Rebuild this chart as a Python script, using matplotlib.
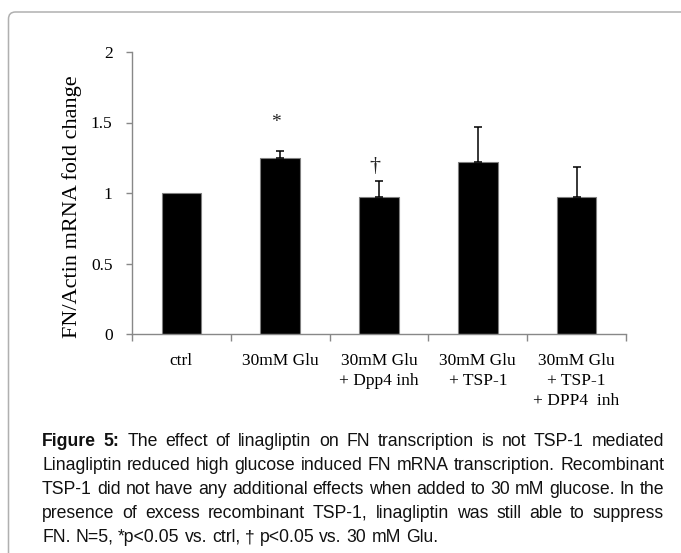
import matplotlib
matplotlib.use('Agg')
import matplotlib.pyplot as plt
from matplotlib.patches import FancyBboxPatch
from matplotlib.transforms import IdentityTransform
import numpy as np

# ---------------- data ----------------
categories = ['ctrl', '30mM Glu', '30mM Glu\n+ Dpp4 inh', '30mM Glu\n+ TSP-1',
              '30mM Glu\n+ TSP-1\n+ DPP4  inh']
values = [1.0, 1.25, 0.97, 1.22, 0.97]
errors = [0.0, 0.045, 0.115, 0.245, 0.215]
sig_marks = ['', '*', '\u2020', '', '']
sig_heights = [0.0, 1.50, 1.19, 0.0, 0.0]
y_ticks = [0, 0.5, 1, 1.5, 2]
y_tick_labels = ['0', '0.5', '1', '1.5', '2']
y_label = 'FN/Actin mRNA fold change'

caption_bold = 'Figure 5:'
caption_lines = [
    'The effect of linagliptin on FN transcription is not TSP-1 mediated',
    'Linagliptin reduced high glucose induced FN mRNA transcription. Recombinant',
    'TSP-1 did not have any additional effects when added to 30 mM glucose. In the',
    'presence of excess recombinant TSP-1, linagliptin was still able to suppress',
    'FN. N=5, *p<0.05 vs. ctrl, \u2020 p<0.05 vs. 30 mM Glu.',
]

# ---------------- figure ----------------
W, H = 681, 553
fig = plt.figure(figsize=(W / 100, H / 100), dpi=100)
fig.patch.set_facecolor('white')

serif = ['Liberation Serif', 'DejaVu Serif']
sans = ['Liberation Sans', 'DejaVu Sans']

# border box (open at right and bottom)
box = FancyBboxPatch((8.5, -30), 720, 553 - 12 + 30,
                     boxstyle='round,pad=0,rounding_size=7',
                     transform=IdentityTransform(), facecolor='none',
                     edgecolor='#b0b0b0', linewidth=1.1)
fig.add_artist(box)

ax = fig.add_axes([132 / W, 1 - 334 / H, (626 - 132) / W, (334 - 52) / H])
x = np.arange(len(categories))
ax.bar(x, values, width=0.4, color='black', edgecolor='#7f7f7f',
       linewidth=0.8, zorder=2)

vals = np.array(values)
errs = np.array(errors)
mask = errs > 0
ax.errorbar(x[mask], vals[mask], yerr=[np.zeros(mask.sum()), errs[mask]],
            fmt='none', ecolor='black', elinewidth=1.1, capsize=3,
            capthick=1.1, zorder=3)

mark_sizes = {'*': 14, '\u2020': 16}
for xi, m, h in zip(x, sig_marks, sig_heights):
    if m:
        ax.text(xi - 0.04, h, m, ha='center', va='center',
                fontsize=mark_sizes[m], family=serif, color='#222222')

ax.set_xlim(-0.5, len(categories) - 0.5)
ax.set_ylim(0, 2)
for s in ['top', 'right']:
    ax.spines[s].set_visible(False)
for s in ['left', 'bottom']:
    ax.spines[s].set_color('#888888')
    ax.spines[s].set_linewidth(1.0)

ax.set_yticks(y_ticks)
ax.set_yticklabels(y_tick_labels, fontsize=12.5, family=serif)
ax.tick_params(axis='y', direction='out', length=4, width=1,
               color='#888888', pad=10)

ax.set_xticks(x)
ax.set_xticklabels(categories, fontsize=12.5, family=serif, linespacing=1.3,
                   va='top')
ax.tick_params(axis='x', which='major', length=0, pad=14)
ax.set_xticks(np.arange(-0.5, len(categories), 1), minor=True)
ax.tick_params(axis='x', which='minor', direction='out', length=5, width=1,
               color='#888888')

fig.text(72 / W, 1 - 207 / H, y_label, rotation=90, ha='center',
         va='center', fontsize=16, family=serif)

# ---------------- justified caption ----------------
renderer = fig.canvas.get_renderer()


def word_width(s, weight, size):
    t = fig.text(0, 0, s, fontsize=size, weight=weight, family=sans)
    w = t.get_window_extent(renderer).width
    t.remove()
    return w


left, right = 42, 664
baselines = [446, 470, 494, 518, 542]

size = 14.0
words_all = []
for i, line in enumerate(caption_lines):
    ws = [(w, 'normal') for w in line.split(' ')]
    if i == 0:
        ws = [(w, 'bold') for w in caption_bold.split(' ')] + ws
    words_all.append(ws)

# shrink until every justified line fits
while True:
    space = word_width('a a', 'normal', size) - word_width('aa', 'normal', size)
    ok = True
    for ws in words_all[:-1]:
        tot = sum(word_width(w, wt, size) for w, wt in ws) + space * (len(ws) - 1)
        if tot > right - left:
            ok = False
            break
    if ok:
        break
    size -= 0.1

for i, ws in enumerate(words_all):
    widths = [word_width(w, wt, size) for w, wt in ws]
    if i < len(words_all) - 1:
        gap = (right - left - sum(widths)) / (len(ws) - 1)
    else:
        gap = space
    xpos = left
    for (w, wt), wd in zip(ws, widths):
        fig.text(xpos / W, 1 - baselines[i] / H, w, fontsize=size, weight=wt,
                 family=sans, ha='left', va='baseline', color='#111111')
        xpos += wd + gap

fig.savefig('out.png', dpi=100, facecolor='white')
